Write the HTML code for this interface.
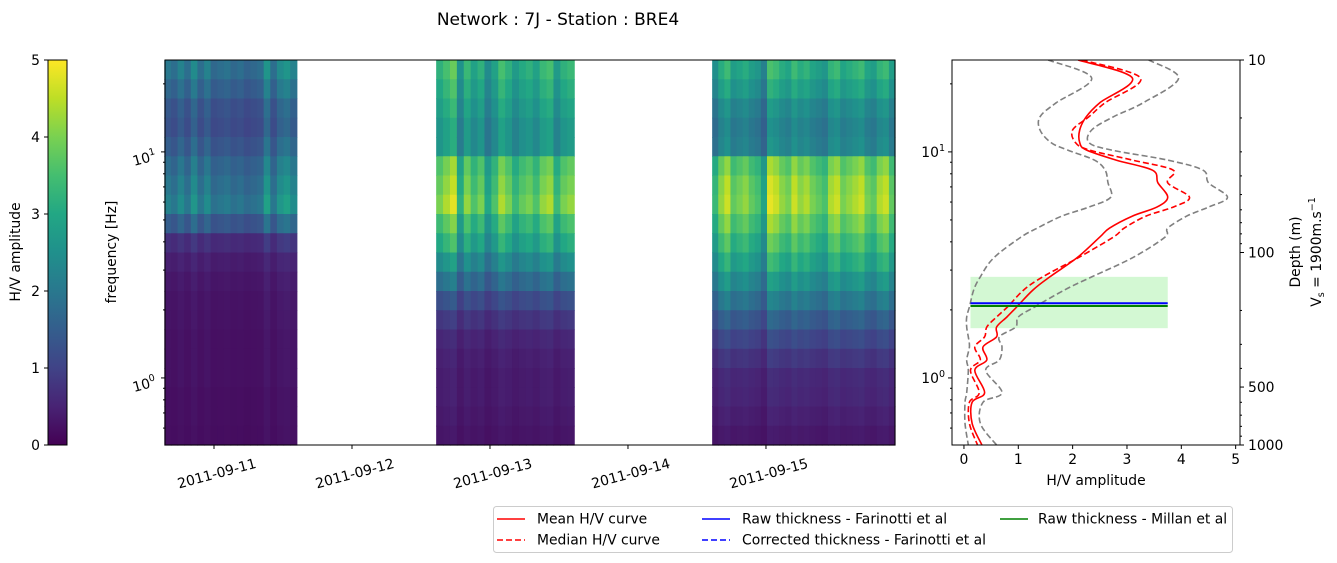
<!DOCTYPE html>
<html><head><meta charset="utf-8"><style>
body{margin:0;background:#fff;}
svg{display:block;font-family:"DejaVu Sans","Liberation Sans",sans-serif;}
</style></head><body>
<svg id="chart" width="1337" height="563" viewBox="0 0 1337 563" xmlns="http://www.w3.org/2000/svg">
<text x="558" y="25" font-size="17" text-anchor="middle">Network : 7J - Station : BRE4</text>
<g id="cbar"></g>
<g id="heat"></g>
<g id="curve"></g>
<g>
<rect x="493.5" y="506.5" width="739" height="46" fill="#fff" stroke="#ccc" rx="3"/>
<line x1="497" y1="519" x2="525" y2="519" stroke="#f00" stroke-width="1.6"/>
<text x="537" y="523.5" font-size="13.9">Mean H/V curve</text>
<line x1="497" y1="540" x2="525" y2="540" stroke="#f00" stroke-width="1.6" stroke-dasharray="6,3"/>
<text x="537" y="544.5" font-size="13.9">Median H/V curve</text>
<line x1="702" y1="519" x2="730" y2="519" stroke="#00f" stroke-width="1.6"/>
<text x="742" y="523.5" font-size="13.9">Raw thickness - Farinotti et al</text>
<line x1="702" y1="540" x2="730" y2="540" stroke="#00f" stroke-width="1.6" stroke-dasharray="6,3"/>
<text x="742" y="544.5" font-size="13.9">Corrected thickness - Farinotti et al</text>
<line x1="1000" y1="519" x2="1028" y2="519" stroke="#008000" stroke-width="1.6"/>
<text x="1038" y="523.5" font-size="13.9">Raw thickness - Millan et al</text>
</g>
</svg>
<script>
// ---- data ----
const freqs   = [25.5,21.2,16.5,14.3,12.5,11.0,10.2,9.2,8.3,7.3,6.3,5.7,5.2,4.6,4.2,3.4,2.8,2.45,2.06,1.86,1.68,1.52,1.37,1.20,1.08,0.86,0.78,0.63,0.505];
const meanHV  = [2.1,3.1,2.5,2.25,2.13,2.13,2.25,2.8,3.47,3.57,3.75,3.55,3.1,2.68,2.5,2.08,1.58,1.27,0.97,0.79,0.6,0.6,0.35,0.42,0.2,0.38,0.15,0.15,0.33];
const medianHV= [2.17,3.25,2.6,2.3,2.0,2.05,2.3,3.1,3.85,3.75,4.15,3.85,3.35,2.95,2.75,2.1,1.45,1.1,0.8,0.6,0.42,0.38,0.2,0.3,0.12,0.28,0.1,0.1,0.25];
const upperHV = [3.4,3.95,3.3,2.75,2.35,2.3,2.7,3.75,4.4,4.5,4.85,4.5,4.1,3.75,3.7,3.1,2.35,1.85,1.3,1.0,0.95,0.65,0.7,0.65,0.4,0.7,0.35,0.3,0.6];
const lowerHV = [1.55,2.35,1.7,1.4,1.4,1.6,1.9,2.4,2.6,2.65,2.7,2.3,1.8,1.35,1.05,0.55,0.3,0.18,0.1,0.05,0.05,0.08,0.1,0.05,0.08,0.05,0.02,0.02,0.08];
const bandFreq = [1.66, 2.8];
const bandAmp = [0.12, 3.75];
const rawFarinottiF = 2.14;
const rawMillanF = 2.08;
const dateTicks = ["2011-09-11","2011-09-12","2011-09-13","2011-09-14","2011-09-15"];
const dateTickDays = [1,2,3,4,5];
const blockStarts = [0.64, 2.61, 4.61];
const blockEnds = [1.60, 3.61, 5.935];
const profile1 = [2.0,1.7,1.4,1.3,1.5,1.8,2.0,2.2,1.5,0.7,0.45,0.35,0.3,0.28,0.25,0.25,0.25,0.22,0.22,0.2];
const profile2 = [3.2,3.0,2.8,2.6,2.6,3.6,3.8,4.0,3.4,3.0,2.4,1.8,1.2,0.8,0.55,0.45,0.4,0.4,0.35,0.3];
const profile3 = [3.1,2.8,2.4,2.2,2.3,3.8,4.1,4.2,3.8,3.4,3.0,2.5,2.0,1.5,1.1,0.8,0.6,0.55,0.45,0.35];
const gains1 = [1,0.9,1.1,0.9,1.2,0.9,1.1,0.85,0.9,0.95,0.85,0.9,0.8,0.85,0.9,1.3,0.9,1.2,1.3,1.1];
const gains2 = [1.0,1.1,1.2,0.8,1.05,0.9,1.0,0.75,0.9,1.1,1.0,0.85,0.95,1.0,0.9,1.05,1.1,0.85,1.0,1.05];
const gains3 = [0.8,1.0,1.1,0.9,0.95,1.0,0.9,0.85,0.7,1.15,1.1,1.0,0.95,1.1,1.0,1.05,0.95,0.9,0.85,1.05,1.1,0.95,1.0,1.05,1.1,0.95,0.9,1.05,1.1,0.9];
const cbarTicks = [0,1,2,3,4,5];
const ampTicks = [0,1,2,3,4,5];
const depthTicks = [10,100,500,1000];

// ---- helpers ----
const NS="http://www.w3.org/2000/svg";
const FS=13.9;
function mk(tag, attrs, parent, txt){const e=document.createElementNS(NS,tag);for(const k in attrs)e.setAttribute(k,attrs[k]);if(txt!==undefined)e.textContent=txt;parent.appendChild(e);return e;}
const VIR=[[68,1,84],[72,35,116],[64,67,135],[52,94,141],[41,120,142],[32,144,140],[34,167,132],[68,190,112],[121,209,81],[189,222,38],[253,231,37]];
function viridis(t){t=Math.max(0,Math.min(1,t));const s=t*(VIR.length-1);const i=Math.min(VIR.length-2,Math.floor(s));const f=s-i;const a=VIR[i],b=VIR[i+1];return `rgb(${Math.round(a[0]+(b[0]-a[0])*f)},${Math.round(a[1]+(b[1]-a[1])*f)},${Math.round(a[2]+(b[2]-a[2])*f)})`;}
const yTop=60, yBot=445;
const fMax=25.5, fMin=0.505;
function yF(f){return yTop+(Math.log10(fMax)-Math.log10(f))/(Math.log10(fMax)-Math.log10(fMin))*(yBot-yTop);}
const hx0=165, hx1=895, dMin=0.645, dMax=5.935;
function xD(d){return hx0+(d-dMin)/(dMax-dMin)*(hx1-hx0);}
const cx0=952, cx1=1240, aMin=-0.22, aMax=5.08;
function xA(a){return cx0+(a-aMin)/(aMax-aMin)*(cx1-cx0);}
function yDepth(d){return yTop+(Math.log10(d)-1)/2*(yBot-yTop);}

// ---- colorbar ----
const cb=document.getElementById('cbar');
const defs=mk('defs',{},cb);
const lg=mk('linearGradient',{id:'vg',x1:0,y1:1,x2:0,y2:0},defs);
for(let i=0;i<VIR.length;i++)mk('stop',{offset:i/(VIR.length-1),'stop-color':viridis(i/(VIR.length-1))},lg);
mk('rect',{x:48,y:yTop,width:19,height:yBot-yTop,fill:'url(#vg)',stroke:'#000','stroke-width':1},cb);
cbarTicks.forEach(v=>{const y=yBot-v/5*(yBot-yTop);mk('line',{x1:44,x2:48,y1:y,y2:y,stroke:'#000'},cb);
 const t=mk('text',{x:40,y:y+5,'font-size':FS,'text-anchor':'end'},cb,String(v));
 
 });
const cbt=mk('text',{x:0,y:0,'font-size':FS,'text-anchor':'middle',transform:'translate(20,252) rotate(-90)'},cb,'H/V amplitude');



// ---- heatmap ----
const hg=document.getElementById('heat');
const nRows=20;
const profiles=[profile1,profile2,profile3], gains=[gains1,gains2,gains3];
for(let b=0;b<3;b++){
 const xs=xD(blockStarts[b]), xe=xD(blockEnds[b]);
 const g=gains[b], p=profiles[b]; const cw=(xe-xs)/g.length; const rh=(yBot-yTop)/nRows;
 for(let c=0;c<g.length;c++)for(let r=0;r<nRows;r++){
  const v=Math.min(5,p[r]*g[c]);
  const cell=mk('rect',{x:xs+c*cw,y:yTop+r*rh,width:cw+0.6,height:rh+0.6,fill:viridis(v/5)},hg);
  
  
 }
}
mk('rect',{x:hx0,y:yTop,width:hx1-hx0,height:yBot-yTop,fill:'none',stroke:'#000','stroke-width':1},hg);
dateTicks.forEach((lab,i)=>{const x=xD(dateTickDays[i]);mk('line',{x1:x,x2:x,y1:yBot,y2:yBot+4,stroke:'#000'},hg);
 const t=mk('text',{x:0,y:0,'font-size':FS,'text-anchor':'middle',transform:`translate(${x+4},${yBot+33}) rotate(-15)`},hg,lab);
 
 });
function logTicks(g,xAxis,dir){
 for(let e=-1;e<=1;e++)for(let m=1;m<10;m++){const f=m*Math.pow(10,e);if(f<fMin||f>fMax)continue;const y=yF(f);
  mk('line',{x1:xAxis,x2:xAxis+dir*(m==1?4:2),y1:y,y2:y,stroke:'#000'},g);}
}
logTicks(hg,hx0,-1);
[[1,'1'],[0,'0']].forEach(([e,s])=>{const y=yF(Math.pow(10,e));
 const t=mk('text',{x:0,y:0,'font-size':FS,'text-anchor':'end',transform:`translate(${hx0-8},${y+8}) rotate(-15)`},hg);
 
 
 mk('tspan',{},t,'10');mk('tspan',{dy:-6,'font-size':9.5},t,s);});
const fl=mk('text',{x:0,y:0,'font-size':FS,'text-anchor':'middle',transform:'translate(116,252) rotate(-90)'},hg,'frequency [Hz]');



// ---- curve panel ----
const cg=document.getElementById('curve');
const clip=mk('clipPath',{id:'cc'},mk('defs',{},cg));mk('rect',{x:cx0,y:yTop,width:cx1-cx0,height:yBot-yTop},clip);
const inner=mk('g',{'clip-path':'url(#cc)'},cg);
const band=mk('rect',{x:xA(bandAmp[0]),y:yF(bandFreq[1]),width:xA(bandAmp[1])-xA(bandAmp[0]),height:yF(bandFreq[0])-yF(bandFreq[1]),fill:'#90ee90','fill-opacity':0.4},inner);


function smooth(pts){let d='M'+pts[0][0].toFixed(1)+' '+pts[0][1].toFixed(1);
 for(let i=0;i<pts.length-1;i++){const p0=pts[Math.max(0,i-1)],p1=pts[i],p2=pts[i+1],p3=pts[Math.min(pts.length-1,i+2)];
  const c1=[p1[0]+(p2[0]-p0[0])/6,p1[1]+(p2[1]-p0[1])/6],c2=[p2[0]-(p3[0]-p1[0])/6,p2[1]-(p3[1]-p1[1])/6];
  d+=` C${c1[0].toFixed(1)} ${c1[1].toFixed(1)} ${c2[0].toFixed(1)} ${c2[1].toFixed(1)} ${p2[0].toFixed(1)} ${p2[1].toFixed(1)}`;}
 return d;}
function path(arr,color,dash,name){const pts=arr.map((a,i)=>[xA(a),yF(freqs[i])]);
 const p=mk('path',{d:smooth(pts),fill:'none',stroke:color,'stroke-width':1.6,'stroke-dasharray':dash,'stroke-linejoin':'round'},inner);
 
 }
path(upperHV,'#808080','6,3','upper-std-curve');
path(lowerHV,'#808080','6,3','lower-std-curve');
path(medianHV,'#f00','6,3','median-hv-curve');
path(meanHV,'#f00','none','mean-hv-curve');
const bl=mk('line',{x1:xA(bandAmp[0]),x2:xA(bandAmp[1]),y1:yF(rawFarinottiF),y2:yF(rawFarinottiF),stroke:'#00f','stroke-width':2},inner);


const gl=mk('line',{x1:xA(bandAmp[0]),x2:xA(bandAmp[1]),y1:yF(rawMillanF),y2:yF(rawMillanF),stroke:'#008000','stroke-width':2},inner);


mk('rect',{x:cx0,y:yTop,width:cx1-cx0,height:yBot-yTop,fill:'none',stroke:'#000','stroke-width':1},cg);
logTicks(cg,cx0,-1);
[[1,'1'],[0,'0']].forEach(([e,s])=>{const y=yF(Math.pow(10,e));
 const t=mk('text',{x:cx0-7,y:y+5,'font-size':FS,'text-anchor':'end'},cg);
 
 
 mk('tspan',{},t,'10');mk('tspan',{dy:-6,'font-size':9.5},t,s);});
ampTicks.forEach(v=>{const x=xA(v);mk('line',{x1:x,x2:x,y1:yBot,y2:yBot+4,stroke:'#000'},cg);
 const t=mk('text',{x:x,y:yBot+19,'font-size':FS,'text-anchor':'middle'},cg,String(v));
 
 });
const xl=mk('text',{x:1096,y:485,'font-size':FS,'text-anchor':'middle'},cg,'H/V amplitude');


// depth axis
for(let e=1;e<=2;e++)for(let m=1;m<10;m++){const d=m*Math.pow(10,e);if(d>1000)continue;const y=yDepth(d);
 mk('line',{x1:cx1,x2:cx1+(depthTicks.includes(d)?4:2),y1:y,y2:y,stroke:'#000'},cg);}
mk('line',{x1:cx1,x2:cx1+4,y1:yDepth(1000),y2:yDepth(1000),stroke:'#000'},cg);
depthTicks.forEach(d=>{const y=yDepth(d);
 const t=mk('text',{x:cx1+8,y:y+5,'font-size':FS},cg,String(d));
 
 });
const dl=mk('text',{x:0,y:0,'font-size':FS,'text-anchor':'middle',transform:'translate(1300,252) rotate(-90)'},cg,'Depth (m)');


const vl=mk('text',{x:0,y:0,'font-size':FS,'text-anchor':'middle',transform:'translate(1321,252) rotate(-90)'},cg);


mk('tspan',{},vl,'V');mk('tspan',{dy:3,'font-size':9.5},vl,'s');mk('tspan',{dy:-3},vl,' = 1900m.s');mk('tspan',{dy:-6,'font-size':9.5},vl,'−1');
</script>
</body></html>
